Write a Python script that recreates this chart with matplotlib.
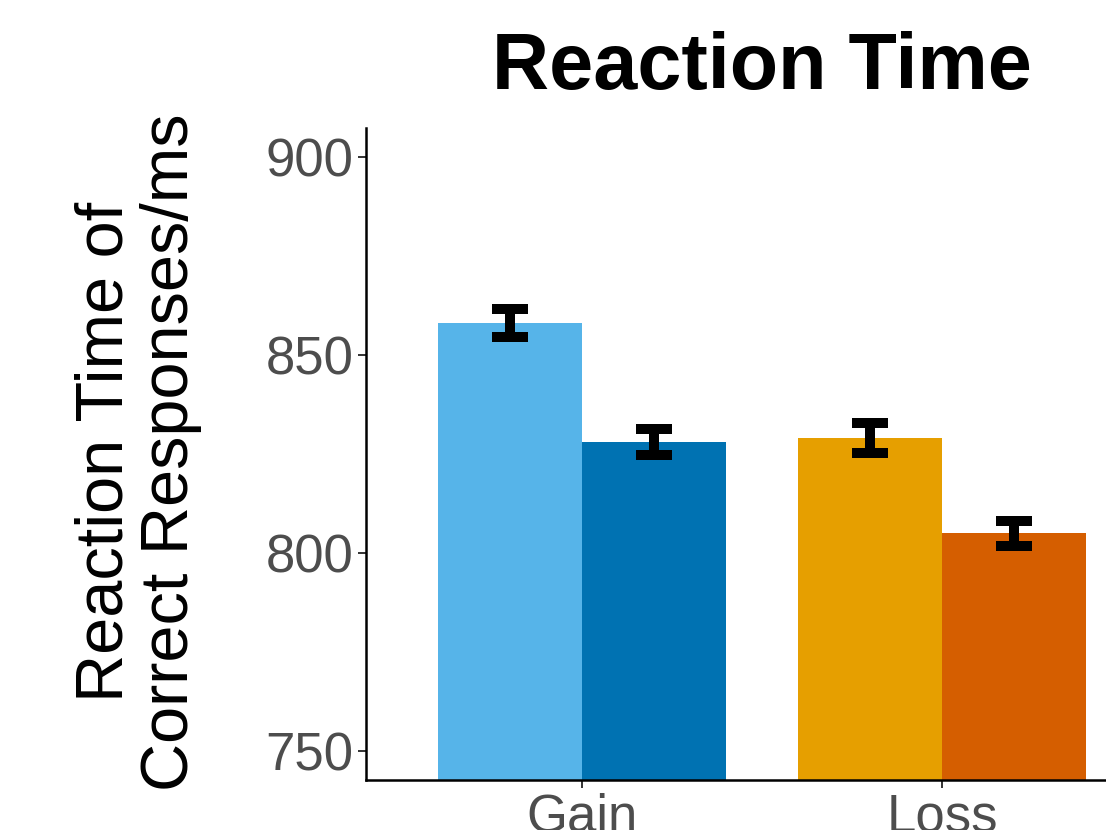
import matplotlib.pyplot as plt
import numpy as np

plt.rcParams['font.family'] = ['Liberation Sans', 'DejaVu Sans']

# data
groups = ["Gain", "Loss"]
rt_first = [858.1, 829.0]
rt_second = [828.0, 805.0]
se_first = [3.6, 3.8]
se_second = [3.3, 3.2]
colors_first = ["#56B4E9", "#E69F00"]
colors_second = ["#0072B2", "#D55E00"]

fig = plt.figure(figsize=(11.06, 8.3), dpi=100)
ax = fig.add_axes([366 / 1106, 50 / 830, 740 / 1106, 652 / 830])

x = np.arange(len(groups))
w = 0.4
ax.bar(x - w / 2, rt_first, width=w, color=colors_first, bottom=0)
ax.bar(x + w / 2, rt_second, width=w, color=colors_second, bottom=0)

eb = dict(fmt='none', ecolor='black', elinewidth=7.2, capsize=13, capthick=7.2)
ax.errorbar(x - w / 2, rt_first, yerr=se_first, **eb)
ax.errorbar(x + w / 2, rt_second, yerr=se_second, **eb)

ax.set_xlim(-0.6, 1.456)
ax.set_ylim(742.7, 907.3)
ax.set_yticks([750, 800, 850, 900])
ax.set_xticks(x)
ax.set_xticklabels(groups)

for s in ['top', 'right']:
    ax.spines[s].set_visible(False)
for s in ['left', 'bottom']:
    ax.spines[s].set_linewidth(1.8)
ax.tick_params(axis='both', labelsize=38, labelcolor='#4D4D4D', length=6, width=1.4,
               color='#333333', pad=3)

fig.text(762 / 1106, 1 - 68 / 830, "Reaction Time", fontsize=57, fontweight='bold',
         ha='center', va='center')
fig.text(138 / 1106, 1 - 452 / 830, "Reaction Time of\nCorrect Responses/ms", fontsize=48,
         rotation=90, ha='center', va='center', multialignment='center', linespacing=1.07)

plt.savefig("out.png", dpi=100)
plt.close()
